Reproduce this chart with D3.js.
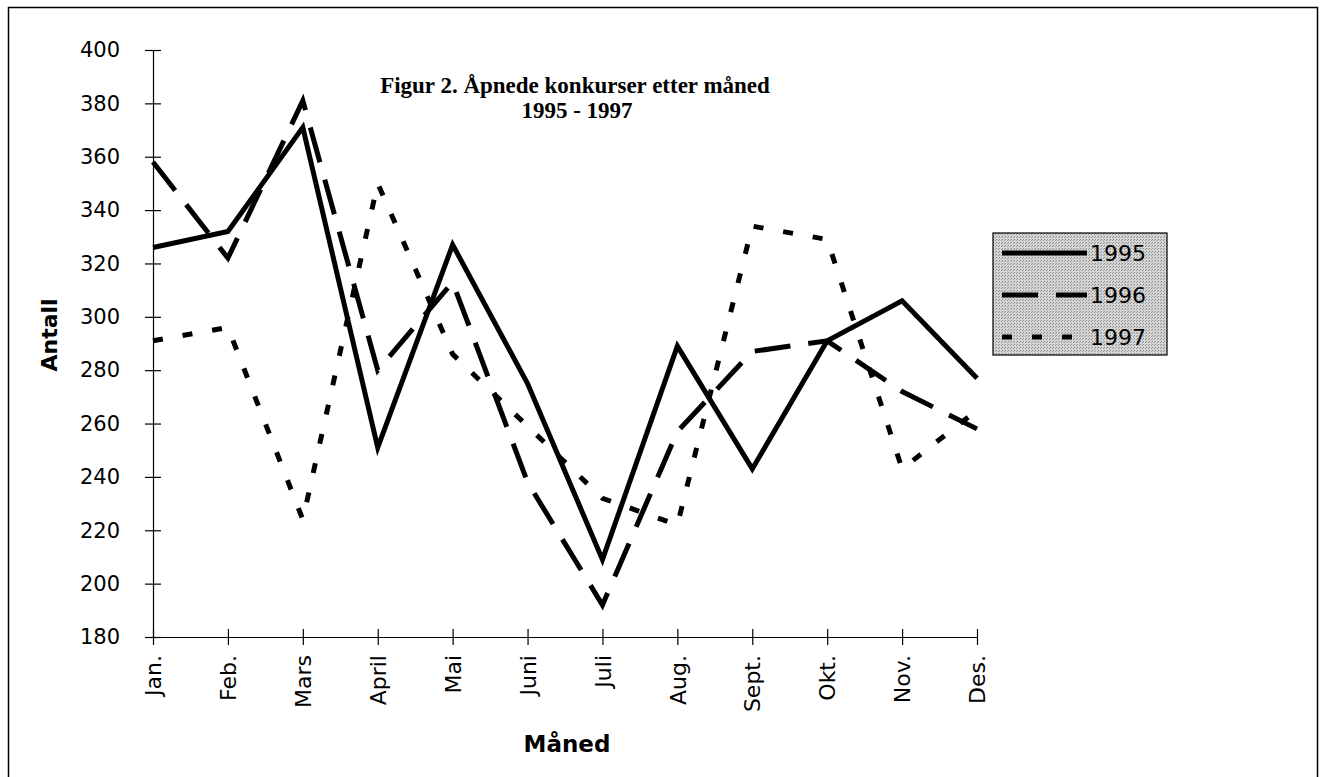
<!DOCTYPE html>
<html>
<head>
<meta charset="utf-8">
<script src="https://cdn.jsdelivr.net/npm/d3@7"></script>
<style>
  body { margin: 0; background: #fff; }
  svg { display: block; }
  .axis path, .axis line { stroke: #000; stroke-width: 1.2; }
  .axis text { font-family: "DejaVu Sans", sans-serif; font-size: 21px; fill: #000; }
</style>
</head>
<body>
<div id="svg-container"></div>
<script>
// data
const months = ["Jan.", "Feb.", "Mars", "April", "Mai", "Juni", "Juli", "Aug.", "Sept.", "Okt.", "Nov.", "Des."];
const years = ["1995", "1996", "1997"];
const v1995 = [326, 332, 371, 251, 327, 275, 209, 289, 243, 291, 306, 277];
const v1996 = [358, 322, 381, 280, 313, 238, 192, 257, 287, 291, 272, 258];
const v1997 = [291, 296, 224, 350, 286, 259, 232, 222, 334, 329, 243, 265];
const yTicks = [180, 200, 220, 240, 260, 280, 300, 320, 340, 360, 380, 400];

const width = 1325;
const height = 777;

const svg = d3.select("#svg-container").append("svg")
  .attr("width", width)
  .attr("height", height);

// outer frame
svg.append("rect")
  .attr("x", 8.5).attr("y", 7.5)
  .attr("width", 1309).attr("height", 800)
  .attr("fill", "none").attr("stroke", "#000").attr("stroke-width", 1.5);

// scales
const x = d3.scalePoint().domain(months).range([153, 977]);
const y = d3.scaleLinear().domain([180, 400]).range([637, 50]);

// y axis
const gy = svg.append("g")
  .attr("class", "axis")
  .attr("transform", "translate(153,0)")
  .call(d3.axisLeft(y).tickValues(yTicks).tickSize(8).tickPadding(25).tickSizeOuter(0));
gy.selectAll(".tick line").attr("x1", -8).attr("x2", 8);

// x axis
const gx = svg.append("g")
  .attr("class", "axis")
  .attr("transform", "translate(0,637)")
  .call(d3.axisBottom(x).tickSize(8).tickSizeOuter(0));
gx.selectAll(".tick line").attr("y1", -8).attr("y2", 8);
gx.selectAll(".tick text")
  .attr("transform", "rotate(-90)")
  .attr("x", -18)
  .attr("y", 0)
  .attr("dy", "0.35em")
  .style("font-size", "22px")
  .style("text-anchor", "end");

// axis titles
svg.append("text")
  .attr("x", 567).attr("y", 752)
  .style("text-anchor", "middle")
  .style("font-family", "DejaVu Sans, sans-serif")
  .style("font-weight", "bold")
  .style("font-size", "23px")
  .text("Måned");

svg.append("text")
  .attr("transform", "translate(57,335) rotate(-90)")
  .style("text-anchor", "middle")
  .style("font-family", "DejaVu Sans, sans-serif")
  .style("font-weight", "bold")
  .style("font-size", "22px")
  .text("Antall");

// title
svg.append("text")
  .attr("x", 575).attr("y", 93)
  .style("text-anchor", "middle")
  .style("font-family", "Liberation Serif, serif")
  .style("font-weight", "bold")
  .style("font-size", "23px")
  .text("Figur 2. Åpnede konkurser etter måned");

svg.append("text")
  .attr("x", 577).attr("y", 118)
  .style("text-anchor", "middle")
  .style("font-family", "Liberation Serif, serif")
  .style("font-weight", "bold")
  .style("font-size", "23px")
  .text("1995 - 1997");

// lines
const series = [
  { name: years[0], values: v1995, dash: null },
  { name: years[1], values: v1996, dash: "36,18" },
  { name: years[2], values: v1997, dash: "10,20" }
];

const line = d3.line()
  .x((d, i) => x(months[i]))
  .y((d) => y(d));

svg.selectAll(".series")
  .data(series)
  .enter()
  .append("path")
  .attr("class", "series")
  .attr("d", (d) => line(d.values))
  .attr("fill", "none")
  .attr("stroke", "#000")
  .attr("stroke-width", 5)
  .attr("stroke-linejoin", "miter")
  .attr("stroke-dasharray", (d) => d.dash);

// legend
const defs = svg.append("defs");
const pat = defs.append("pattern")
  .attr("id", "stipple")
  .attr("width", 3).attr("height", 3)
  .attr("patternUnits", "userSpaceOnUse");
pat.append("rect").attr("width", 3).attr("height", 3).attr("fill", "#d4d4d4");
pat.append("rect").attr("width", 1).attr("height", 1).attr("fill", "#8a8a8a");
pat.append("rect").attr("x", 2).attr("y", 1).attr("width", 1).attr("height", 1).attr("fill", "#9a9a9a");

const legend = svg.append("g").attr("transform", "translate(993,233)");
legend.append("rect")
  .attr("width", 174).attr("height", 122)
  .attr("fill", "url(#stipple)")
  .attr("stroke", "#000").attr("stroke-width", 1.2);

const items = legend.selectAll(".item")
  .data(series)
  .enter()
  .append("g")
  .attr("transform", (d, i) => `translate(0,${20 + i * 42})`);

items.append("line")
  .attr("x1", 9).attr("x2", 94)
  .attr("stroke", "#000").attr("stroke-width", 5)
  .attr("stroke-dasharray", (d) => d.dash);

items.append("text")
  .attr("x", 97).attr("y", 0)
  .attr("dy", "0.36em")
  .style("font-family", "DejaVu Sans, sans-serif")
  .style("font-size", "22px")
  .text((d) => d.name);
</script>
</body>
</html>
